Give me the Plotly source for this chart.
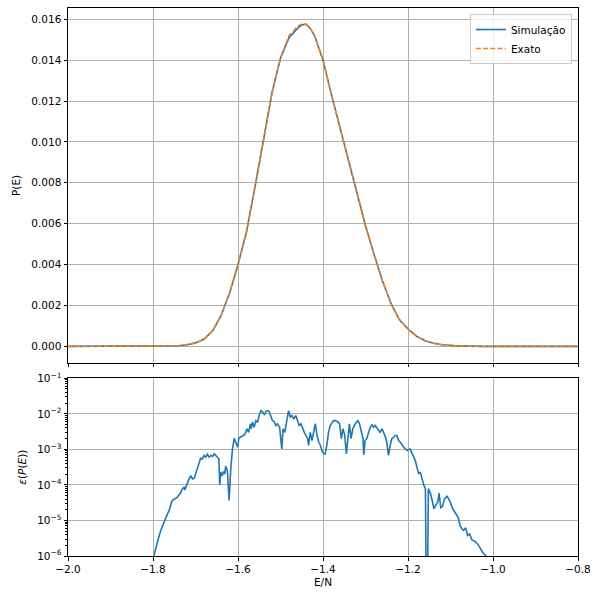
import plotly.graph_objects as go
from plotly.subplots import make_subplots

# ---- Top panel: energy distribution ----
E_top = [-2.00, -1.80, -1.78, -1.76, -1.74, -1.72, -1.70, -1.68, -1.66, -1.64,
         -1.62, -1.60, -1.58, -1.56, -1.54, -1.52, -1.50, -1.48, -1.46, -1.45,
         -1.44, -1.43, -1.42, -1.40, -1.38, -1.36, -1.34, -1.32, -1.30, -1.28,
         -1.26, -1.24, -1.22, -1.20, -1.18, -1.16, -1.14, -1.12, -1.10, -1.08,
         -1.06, -1.04, -1.02, -0.80]
P_exact = [0.0, 0.0, 0.000003, 0.00001, 0.00003, 0.00008, 0.00017, 0.00035, 0.00075, 0.0015,
           0.0026, 0.0040, 0.0056, 0.0078, 0.0102, 0.0124, 0.0141, 0.0152, 0.01565, 0.01577,
           0.01575, 0.01555, 0.0152, 0.0140, 0.0123, 0.0107, 0.0092, 0.0075, 0.0059, 0.0045,
           0.0032, 0.0021, 0.0013, 0.00085, 0.0005, 0.00028, 0.00015, 0.00008, 0.00004, 0.00002,
           0.00001, 0.000003, 0.0, 0.0]
P_sim = [0.0, 0.0, 0.000003, 0.00001, 0.00003, 0.00008, 0.00017, 0.00035, 0.00075, 0.0015,
         0.0026, 0.0040, 0.0056, 0.0078, 0.0102, 0.0124, 0.0141, 0.0151, 0.01555, 0.01572,
         0.01576, 0.01555, 0.0152, 0.0140, 0.0123, 0.0107, 0.0092, 0.0075, 0.0059, 0.0045,
         0.0032, 0.0021, 0.0013, 0.00085, 0.0005, 0.00028, 0.00015, 0.00008, 0.00004, 0.00002,
         0.00001, 0.000003, 0.0, 0.0]

# ---- Bottom panel: error (values stored as log10 of epsilon) ----
err_E = [-1.820, -1.798, -1.790, -1.782, -1.774, -1.766, -1.761, -1.755, -1.748, -1.743,
         -1.739, -1.735, -1.731, -1.727, -1.725, -1.722, -1.717, -1.711, -1.707, -1.703,
         -1.700, -1.696, -1.692, -1.688, -1.684, -1.680, -1.676, -1.672, -1.668, -1.664,
         -1.660, -1.656, -1.653, -1.649, -1.645, -1.643, -1.640, -1.637, -1.634, -1.631,
         -1.629, -1.625, -1.621, -1.617, -1.613, -1.609, -1.605, -1.601, -1.598,
         -1.595, -1.587, -1.583, -1.579, -1.575, -1.571, -1.569, -1.566, -1.562, -1.558,
         -1.554, -1.550, -1.546, -1.542, -1.538, -1.534, -1.531, -1.527, -1.523, -1.519,
         -1.515, -1.511, -1.507, -1.502, -1.497, -1.494, -1.490, -1.485, -1.481, -1.477,
         -1.473, -1.469, -1.464, -1.460, -1.456, -1.452, -1.448, -1.444, -1.440, -1.436,
         -1.434, -1.430, -1.426, -1.422, -1.418, -1.414, -1.410, -1.406, -1.402, -1.398,
         -1.395, -1.391, -1.387, -1.383, -1.379, -1.375, -1.371,
         -1.365, -1.361, -1.357, -1.353, -1.349, -1.345, -1.341, -1.338, -1.334, -1.330,
         -1.324, -1.318, -1.314, -1.310, -1.306, -1.304, -1.301, -1.297, -1.293, -1.289,
         -1.285, -1.281, -1.277, -1.274, -1.270, -1.266, -1.261, -1.257, -1.253, -1.250,
         -1.246, -1.242, -1.238, -1.234, -1.230, -1.226, -1.222, -1.218, -1.214, -1.210,
         -1.206, -1.202, -1.198, -1.195, -1.191, -1.187, -1.183, -1.179, -1.175, -1.171,
         -1.167, -1.163, -1.159, -1.156, -1.152, -1.147, -1.143, -1.139, -1.135, -1.130,
         -1.127, -1.123, -1.119, -1.114, -1.108, -1.102, -1.095, -1.088, -1.082, -1.077,
         -1.070, -1.064, -1.060, -1.055, -1.050, -1.043, -1.035, -1.029, -1.025, -1.019,
         -1.012, -0.990]
err_log10 = [-6.80, -6.00, -5.62, -5.29, -5.05, -4.82, -4.68, -4.44, -4.39, -4.35,
             -4.28, -4.23, -4.11, -4.07, -4.14, -4.02, -3.88, -3.74, -3.83, -3.81,
             -3.69, -3.50, -3.36, -3.25, -3.27, -3.17, -3.22, -3.14, -3.22, -3.17,
             -3.20, -3.13, -3.16, -3.22, -3.27, -4.00, -3.64, -3.74, -3.62, -3.69,
             -3.47, -3.60, -4.44, -3.55, -2.99, -2.69, -2.80, -2.94, -2.69,
             -2.66, -2.61, -2.56, -2.42, -2.52, -2.28, -2.42, -2.23, -2.38, -2.19,
             -2.23, -2.03, -1.91, -1.95, -2.03, -1.93, -1.91, -1.93, -2.05, -2.19,
             -2.22, -2.33, -2.28, -2.38, -2.99, -2.42, -2.52, -2.14, -1.91, -2.09,
             -2.05, -2.14, -2.05, -2.19, -2.33, -2.28, -2.42, -2.52, -2.61, -2.70,
             -2.89, -2.52, -2.75, -2.47, -2.28, -2.61, -2.80, -2.89, -3.06, -3.13,
             -3.13, -2.89, -2.52, -2.33, -2.25, -2.19, -2.19,
             -2.22, -2.28, -2.70, -2.42, -2.59, -3.13, -2.61, -2.28, -2.70, -2.42,
             -2.28, -2.19, -2.28, -2.52, -2.70, -3.15, -2.75, -2.70, -2.52, -2.38,
             -2.31, -2.38, -2.33, -2.38, -2.47, -2.52, -2.42, -2.52, -2.66, -2.80,
             -3.17, -2.89, -2.70, -2.66, -2.61, -2.61, -2.75, -2.80, -2.89, -2.94,
             -2.99, -3.03, -3.00, -2.99, -3.10, -3.22, -3.31, -3.50, -3.69, -3.64,
             -3.83, -4.00, -4.10, -9.00, -4.10, -4.25, -4.44, -4.67, -4.58, -4.48,
             -4.23, -4.64, -4.61, -4.39, -4.32, -4.44, -4.67, -4.81, -4.91, -5.17,
             -5.28, -5.21, -5.42, -5.38, -5.54, -5.58, -5.68, -5.80, -5.89, -5.97,
             -6.05, -6.60]
err_vals = [10 ** v for v in err_log10]

x_ticks = [-2.0, -1.8, -1.6, -1.4, -1.2, -1.0, -0.8]
x_ticklabels = ["\u22122.0", "\u22121.8", "\u22121.6", "\u22121.4", "\u22121.2", "\u22121.0", "\u22120.8"]
y_top_ticks = [0.000, 0.002, 0.004, 0.006, 0.008, 0.010, 0.012, 0.014, 0.016]
y_bot_ticks = [1e-6, 1e-5, 1e-4, 1e-3, 1e-2, 1e-1]
y_bot_labels = ["10<sup>\u22126</sup>", "10<sup>\u22125</sup>", "10<sup>\u22124</sup>",
                "10<sup>\u22123</sup>", "10<sup>\u22122</sup>", "10<sup>\u22121</sup>"]

BLUE = "#1f77b4"
ORANGE = "#ff7f0e"
GRID = "#b0b0b0"
FONT = "DejaVu Sans"
FS = 10.5

fig = make_subplots(rows=2, cols=1, shared_xaxes=False, vertical_spacing=0.03)

fig.add_trace(go.Scatter(x=E_top, y=P_sim, mode="lines", name="Simulação",
                         line=dict(color=BLUE, width=1.6)), row=1, col=1)
fig.add_trace(go.Scatter(x=E_top, y=P_exact, mode="lines", name="Exato",
                         line=dict(color=ORANGE, width=1.6, dash="5px,2.2px")), row=1, col=1)
fig.add_trace(go.Scatter(x=err_E, y=err_vals, mode="lines", showlegend=False,
                         line=dict(color=BLUE, width=1.6)), row=2, col=1)

axis_common = dict(showline=True, linecolor="black", linewidth=1, mirror=True,
                   ticks="outside", ticklen=3.5, tickwidth=0.8, tickcolor="black",
                   showgrid=True, gridcolor=GRID, gridwidth=0.8, zeroline=False,
                   automargin=False,
                   tickfont=dict(family=FONT, size=FS, color="black"))

fig.update_xaxes(**axis_common, range=[-2.0, -0.8], tickmode="array",
                 tickvals=x_ticks, ticktext=x_ticklabels)
fig.update_xaxes(showticklabels=False, row=1, col=1)
fig.update_xaxes(title=dict(text="E/N", font=dict(family=FONT, size=FS, color="black"), standoff=4),
                 row=2, col=1)

fig.update_yaxes(**axis_common)
fig.update_yaxes(range=[-0.0008, 0.01655], tickmode="array", tickvals=y_top_ticks,
                 tickformat=".3f",
                 title=dict(text="P(E)", font=dict(family=FONT, size=FS, color="black"), standoff=8),
                 row=1, col=1)

minor_vals = [m * 10 ** d for d in range(-7, -1) for m in range(2, 10)]
fig.update_yaxes(type="log", range=[-6, -1], tickmode="array", tickvals=y_bot_ticks,
                 ticktext=y_bot_labels,
                 minor=dict(tickmode="array", tickvals=minor_vals, ticks="outside",
                            ticklen=2, tickwidth=0.6, tickcolor="black", showgrid=False),
                 title=dict(text="<i>ε</i>(<i>P</i>(<i>E</i>))",
                            font=dict(family=FONT, size=FS, color="black"), standoff=8),
                 row=2, col=1)

fig.update_layout(
    width=600, height=600,
    margin=dict(l=68, r=22, t=8, b=44, autoexpand=False),
    paper_bgcolor="white", plot_bgcolor="white",
    font=dict(family=FONT, size=FS, color="black"),
    legend=dict(x=0.988, y=0.989, xanchor="right", yanchor="top",
                bgcolor="rgba(255,255,255,0.8)", bordercolor="#cccccc", borderwidth=1,
                font=dict(family=FONT, size=FS, color="black"),
                itemwidth=30, tracegroupgap=0),
)
fig.update_layout(yaxis=dict(domain=[0.3527, 1.0]), yaxis2=dict(domain=[0.0, 0.3243]))

fig.write_html("out.html")
